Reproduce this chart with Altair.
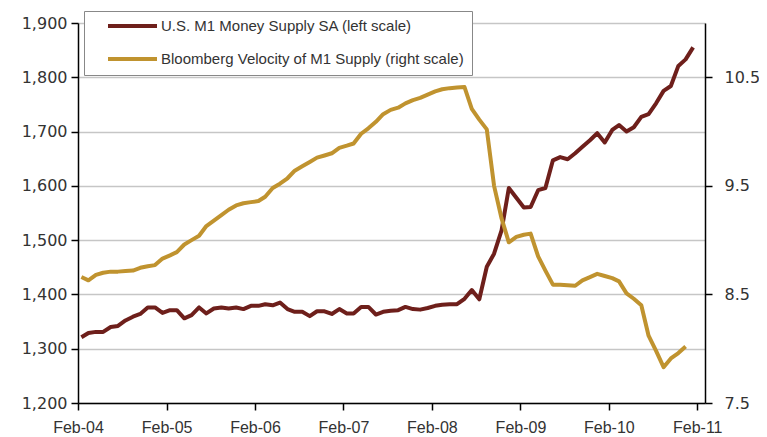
import altair as alt
import pandas as pd

series_names = [
    "U.S. M1 Money Supply SA (left scale)",
    "Bloomberg Velocity of M1 Supply (right scale)",
]
series_colors = ["#6E1F1B", "#C0932F"]

# Monthly, Feb-2004 .. Jan-2011 (billions USD)
m1_supply = [
    1321, 1329, 1331, 1331, 1340, 1342, 1352, 1359, 1364, 1376,
    1376, 1366, 1371, 1371, 1356, 1362, 1376, 1365, 1374, 1376,
    1374, 1376, 1373, 1379, 1379, 1382, 1380, 1385, 1373, 1368,
    1368, 1360, 1369, 1369, 1364, 1373, 1365, 1365, 1377, 1377,
    1363, 1368, 1370, 1371, 1377, 1373, 1372, 1375, 1379, 1381,
    1382, 1382, 1392, 1408, 1391, 1451, 1475, 1518, 1596, 1578,
    1560, 1561, 1592, 1596, 1647, 1653, 1649, 1660, 1672, 1684,
    1697, 1680, 1703, 1712, 1700, 1708, 1727, 1732, 1752, 1775,
    1784, 1821, 1833, 1855,
]

# Monthly, Feb-2004 .. Dec-2010
m1_velocity = [
    8.66, 8.63, 8.68, 8.70, 8.71, 8.71, 8.715, 8.72, 8.745, 8.76,
    8.77, 8.83, 8.86, 8.89, 8.96, 9.00, 9.04, 9.13, 9.18, 9.23,
    9.28, 9.32, 9.34, 9.35, 9.36, 9.40, 9.48, 9.52, 9.57, 9.64,
    9.68, 9.72, 9.76, 9.78, 9.80, 9.85, 9.87, 9.89, 9.98, 10.03,
    10.09, 10.16, 10.20, 10.22, 10.26, 10.29, 10.31, 10.34, 10.37, 10.39,
    10.40, 10.405, 10.41, 10.21, 10.11, 10.02, 9.50, 9.20, 8.98, 9.03,
    9.05, 9.06, 8.85, 8.72, 8.59, 8.59, 8.585, 8.58, 8.63, 8.66,
    8.69, 8.67, 8.65, 8.62, 8.51, 8.46, 8.40, 8.12, 7.98, 7.83,
    7.91, 7.96, 8.02,
]

left_ticks = [1200, 1300, 1400, 1500, 1600, 1700, 1800, 1900]
right_ticks = [7.5, 8.5, 9.5, 10.5]
x_tick_years = [2004, 2005, 2006, 2007, 2008, 2009, 2010, 2011]


def month_dates(n):
    out = []
    for i in range(n):
        k = 1 + i
        y = 2004 + k // 12
        mo = k % 12 + 1
        out.append(f"{y}-{mo:02d}-15T00:00:00")
    return out


df_supply = pd.DataFrame({
    "date": month_dates(len(m1_supply)),
    "value": m1_supply,
    "series": series_names[0],
})
df_velocity = pd.DataFrame({
    "date": month_dates(len(m1_velocity)),
    "value": m1_velocity,
    "series": series_names[1],
})

FONT = "Liberation Sans"
NUM_FONT = "DejaVu Sans"
LABEL_COLOR = "#333333"

x_enc = alt.X(
    "date:T",
    scale=alt.Scale(domain=[alt.DateTime(year=2004, month=2, date=1),
                            alt.DateTime(year=2011, month=3, date=5)]),
    axis=alt.Axis(
        values=[alt.DateTime(year=y, month=2, date=1) for y in x_tick_years],
        format="%b-%y", title=None, grid=False, labelPadding=9,
        labelFlush=False, labelOverlap=False, labelFont=FONT,
    ),
)

color_enc = alt.Color(
    "series:N",
    scale=alt.Scale(domain=series_names, range=series_colors),
    legend=alt.Legend(
        title=None,
        orient="none",
        legendX=6,
        legendY=-12,
        direction="vertical",
        fillColor="white",
        strokeColor="#888888",
        padding=7.5,
        rowPadding=16,
        symbolType="M1.8,0H11.6",
        symbolSize=100,
        symbolStrokeWidth=4,
        symbolFillColor="transparent",
        labelOffset=54.5,
        labelFont=FONT,
        labelFontSize=15,
        labelColor=LABEL_COLOR,
        labelLimit=500,
    ),
)

line_supply = alt.Chart(df_supply).mark_line(strokeWidth=4, strokeJoin="round").encode(
    x=x_enc,
    y=alt.Y(
        "value:Q",
        scale=alt.Scale(domain=[1200, 1900], nice=False, zero=False),
        axis=alt.Axis(orient="left", values=left_ticks, format=",d", title=None,
                      grid=True, labelPadding=4, labelFont=NUM_FONT),
    ),
    color=color_enc,
)

line_velocity = alt.Chart(df_velocity).mark_line(strokeWidth=4, strokeJoin="round").encode(
    x=x_enc,
    y=alt.Y(
        "value:Q",
        scale=alt.Scale(domain=[7.5, 11.0], nice=False, zero=False),
        axis=alt.Axis(orient="right", values=right_ticks, format=".1f", title=None,
                      grid=False, labelPadding=12, labelFont=NUM_FONT),
    ),
    color=color_enc,
)

chart = (
    alt.layer(line_supply, line_velocity)
    .resolve_scale(y="independent")
    .properties(
        width=627,
        height=380,
        autosize=alt.AutoSizeParams(type="none"),
        padding={"left": 70, "top": 15, "right": 54, "bottom": 34},
    )
    .configure_view(stroke=None)
    .configure_axis(
        domainColor="#000000",
        domainWidth=1.5,
        tickColor="#000000",
        tickWidth=1.5,
        tickSize=7,
        labelFontSize=16,
        labelColor=LABEL_COLOR,
        gridColor="#c6c6c6",
        gridWidth=1.5,
    )
)

chart.save("out.html", embed_options={"renderer": "svg", "actions": False})
